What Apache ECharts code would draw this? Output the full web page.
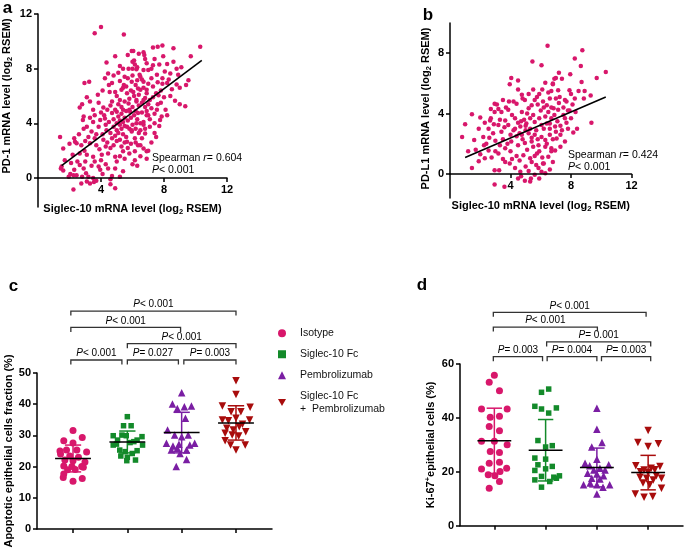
<!DOCTYPE html>
<html>
<head>
<meta charset="utf-8">
<script src="https://cdn.jsdelivr.net/npm/echarts@6/dist/echarts.min.js"></script>
<style>
    html, body {margin: 0; padding: 0; background: #fff;}
    #main {width: 685px; height: 552px;}
</style>
</head>
<body>
<div id="main"></div>
<script>
    // panel a: Siglec-10 vs PD-1 (log2 RSEM)
    var pointsA = [
        [4.0,11.05],[3.6,10.6],[5.45,10.5],[5.95,9.3],[6.7,9.2],[6.05,9.3],[6.75,9.0],[7.3,9.55],[7.6,9.6],[7.9,9.7],
        [10.3,9.6],[9.7,8.9],[7.95,8.9],[8.2,8.35],[7.3,8.25],[6.0,8.5],[4.35,8.45],[6.1,8.6],[6.15,8.3],[5.4,8.0],
        [5.75,8.0],[6.25,7.95],[7.0,7.9],[6.7,7.9],[6.45,7.55],[4.45,7.65],[4.25,7.3],[2.95,6.95],[3.25,7.05],[4.7,6.95],
        [5.2,7.1],[5.45,6.8],[5.95,7.05],[6.3,7.15],[6.7,7.05],[8.9,7.55],[8.4,7.65],[8.05,7.8],[7.55,7.55],[7.2,7.3],
        [6.5,7.4],[9.55,7.15],[8.2,6.95],[8.8,6.85],[7.3,6.7],[6.9,6.45],[6.35,6.55],[5.3,6.45],[4.9,6.3],[4.55,6.3],
        [5.65,6.2],[6.05,6.3],[6.5,6.45],[6.9,6.2],[8.7,5.65],[9.35,5.25],[7.1,5.7],[7.65,6.05],[6.8,5.85],[6.25,5.7],
        [7.2,5.1],[7.55,5.0],[7.85,4.5],[7.75,4.25],[7.0,4.6],[6.7,4.1],[6.25,4.0],[7.1,3.75],[6.8,3.25],[6.6,2.9],
        [6.35,2.4],[6.7,2.15],[6.9,1.95],[6.15,1.95],[6.15,1.3],[5.95,3.5],
        [3.85,5.5],[2.65,5.15],[3.5,5.0],[4.15,5.15],[4.7,5.6],[5.2,5.7],[5.75,5.45],[6.25,5.6],[6.7,5.7],[2.9,4.5],
        [2.85,4.25],[3.6,4.6],[3.95,4.25],[4.25,4.35],[4.7,4.75],[5.0,4.85],[5.4,5.0],[5.85,4.85],[6.35,4.75],[6.9,4.6],
        [3.1,3.75],[3.4,3.4],[3.85,3.75],[4.35,3.5],[4.8,3.75],[5.2,3.9],[5.0,3.5],[5.65,3.75],[5.95,3.4],[6.5,3.5],
        [1.4,3.0],[1.6,2.15],[2.35,2.65],[2.75,2.4],[3.3,2.55],[3.7,2.4],[4.15,2.8],[4.7,2.9],[5.2,2.8],[5.65,2.65],
        [6.15,2.9],[6.5,2.4],[2.65,1.8],[3.1,1.7],[3.5,1.55],[4.05,1.7],[4.45,1.8],[4.9,1.55],[5.4,1.95],[1.5,0.85],
        [2.65,0.95],[2.9,0.7],[3.85,0.85],[3.95,0.6],[4.45,0.7],[4.9,0.7],[2.05,0.3],[2.25,0.2],[3.05,0.35],[3.2,0.1],
        [4.1,0.3],[4.7,0.15],[5.2,0.1],[1.95,0.1],[2.75,-0.4],[3.1,-0.25],[3.3,-0.4],[3.55,-0.3],[2.25,-0.85],[4.9,-0.75],
        [1.45,0.7],[1.6,0.55],[2.45,0.2],[2.45,2.55],[2.2,1.7],[2.5,1.2],[3.0,1.2],[2.95,2.0],
        [4.1,3.2],[4.3,3.9],[4.5,4.1],[4.6,3.3],[4.8,4.3],[4.9,3.1],[5.0,4.0],[5.1,4.5],[5.1,3.3],[5.2,4.2],
        [5.3,3.6],[5.3,4.7],[5.4,4.1],[5.4,3.2],[5.5,3.8],[5.5,4.4],[5.6,4.9],[5.6,3.0],[5.7,4.2],[5.8,3.6],
        [5.8,5.0],[5.9,4.4],[6.0,3.9],[6.0,5.2],[6.1,4.6],[6.2,3.6],[6.2,4.9],[6.3,4.3],[6.4,5.3],[6.5,4.0],
        [6.6,4.8],[6.6,5.5],[6.8,5.2],[6.9,4.9],[7.0,5.4],[7.1,4.3],[7.3,5.9],[7.4,4.7],[7.5,6.2],[7.6,5.4],
        [7.8,6.4],[8.0,5.9],[4.4,2.6],[4.6,2.2],[4.8,2.4],[5.0,2.7],[5.3,2.3],[5.5,2.6],[5.7,2.2],[5.9,2.5],
        [4.2,4.6],[4.4,5.0],[4.6,5.3],[4.9,5.0],[5.1,5.4],[5.3,5.2],[5.5,5.6],[5.8,5.8],[6.1,6.0],[6.4,6.1],
        [6.7,6.6],[7.0,6.9],[5.0,6.0],[5.4,6.6],[5.7,7.3],[6.0,7.5],[6.3,8.1],[6.9,8.4],[7.2,8.0],[7.6,7.0],
        [7.9,7.3],[8.3,7.2],[8.5,6.5],[4.0,4.8],[3.7,3.2],[3.5,4.1],[3.3,4.4],[3.6,2.9],[3.9,2.1],[4.3,2.3],
        [4.0,1.3],[4.3,1.0],[5.0,1.2],[5.2,1.6],[5.5,1.4],[5.8,1.8],[5.4,0.5],[4.6,-0.1],[3.4,0.9],[3.6,1.2],
        [2.6,3.2],[2.9,3.6],[3.2,3.0],[3.3,5.6],[3.8,6.1],[4.1,6.4],[4.5,6.8],[4.8,7.5],[5.1,7.7],[5.5,7.4],
        [5.2,8.2],[4.9,8.9],[5.7,9.0],[6.4,9.1],[6.8,8.7],[7.4,8.7],[8.6,8.5],[9.1,8.1],[3.1,5.9],[2.8,5.4],
        [3.0,2.7],[2.3,2.9],[2.0,2.5],[1.7,1.3],[2.1,1.1],[2.3,0.6],[2.8,0.1],[3.5,0.0],[3.7,-0.2],[4.6,-0.45],
        [7.4,3.3],[7.7,3.8],[7.2,2.6],[7.5,3.0],[7.0,2.0],[6.9,1.4],[6.5,1.6],[6.3,0.9],[6.0,1.0],[6.8,3.6],
        [7.8,5.5],[8.1,5.0],[8.4,6.0],[8.2,4.6],[7.4,4.0],[6.4,3.3],[6.7,3.9],[6.2,2.6],[5.6,6.7],[5.9,6.4],
        [6.6,7.2],[6.2,6.8],[6.0,8.0],[7.7,8.3],[8.6,9.5],[8.8,8.0],[9.0,6.6],[9.4,6.8],[9.0,5.4],[7.9,6.9]
    ];
    var fitA = [[1.5, 0.9], [10.4, 8.6]];

    // panel b: Siglec-10 vs PD-L1 (log2 RSEM)
    var pointsB = [
        [6.45,8.5],[5.45,7.45],[6.05,7.2],[4.05,6.35],[3.95,5.95],[6.3,6.05],[6.8,5.95],[4.75,5.25],[2.95,4.65],[1.45,3.95],
        [2.0,3.75],[2.65,3.55],[0.8,2.45],[1.6,2.25],[2.2,2.45],[2.25,1.9],[1.7,1.6],[2.55,1.55],[1.9,0.85],[1.45,0.4],
        [2.3,1.05],[2.75,1.1],[2.95,0.25],[3.25,0.25],[3.2,1.35],[3.65,0.8],[3.95,0.7],[4.3,0.4],[4.65,0.15],[4.95,-0.45],
        [5.35,-0.3],[5.6,-0.05],[6.3,0.05],[5.85,0.4],[6.15,0.7],[2.95,-0.7],[2.85,2.7],[3.4,2.8],[3.85,3.25],[4.3,3.7],
        [4.75,4.1],[5.2,4.35],[5.75,5.1],[6.15,4.8],[6.6,5.0],[2.95,4.1],[3.4,4.1],[3.85,4.25],[4.4,4.65],[4.95,4.9],
        [5.4,4.55],[3.65,3.55],[3.2,3.25],[2.55,3.0],[4.2,2.9],[4.65,3.15],[5.05,3.35],[5.6,3.45],[6.05,3.25],[6.6,3.35],
        [4.05,2.15],[4.5,1.9],[4.95,2.05],[5.4,2.15],[5.85,1.9],[6.3,1.8],[6.7,1.7],[3.65,1.7],[4.85,1.25],[5.3,1.05],
        [5.75,1.35],[6.5,1.15],[4.75,2.6],[5.2,2.7],[5.6,2.6],[6.05,2.45],
        [8.75,8.2],[8.25,7.65],[8.65,7.15],[10.3,6.75],[9.7,6.35],[7.95,6.6],[7.0,6.35],[7.4,6.3],[6.8,6.0],[8.7,6.1],
        [8.85,5.0],[8.25,5.0],[7.9,5.55],[7.15,5.55],[7.25,5.1],[7.7,4.8],[9.35,3.4],[8.15,2.75],[7.6,2.15],[6.95,1.55],
        [6.7,1.5],[6.2,0.7],[6.05,0.15],[6.85,4.35],[6.4,4.55],[7.15,4.25],[7.5,3.9],[6.7,3.7],[6.4,3.35],[6.95,3.15],
        [7.4,2.9],[6.6,2.6],[6.3,2.25],[7.05,2.35],
        [3.6,-0.85],[4.5,-0.3],[5.3,-0.5],[4.7,-0.15],[5.9,-0.3],[5.0,0.5],[5.4,0.8],[4.4,1.2],[4.0,1.5],[3.3,1.9],
        [3.0,2.2],[1.2,1.5],[1.0,3.3],[1.9,3.0],[2.3,3.4],[2.7,4.3],[3.1,4.6],[3.5,4.9],[3.7,4.4],[4.1,3.9],
        [4.5,3.4],[4.4,2.5],[4.8,2.3],[5.0,2.9],[5.1,1.6],[5.3,3.0],[5.5,1.8],[5.5,3.9],[5.7,2.9],[5.8,2.3],
        [5.9,3.7],[6.0,4.2],[6.2,3.0],[6.4,2.0],[6.5,4.1],[6.7,4.4],[6.9,3.9],[7.1,3.5],[7.2,4.7],[7.3,2.6],
        [7.5,4.4],[7.7,3.4],[7.8,4.2],[8.0,3.7],[8.1,4.6],[8.3,4.1],[8.5,5.5],[8.4,3.0],[7.0,5.0],[6.5,5.4],
        [6.1,5.6],[5.6,4.9],[5.2,5.3],[4.8,5.0],[4.5,5.6],[4.2,4.8],[3.9,4.8],[3.6,3.1],[3.3,3.6],[2.9,3.3],
        [2.6,2.4],[2.4,2.0],[2.0,1.3],[4.6,2.7],[4.9,3.6],[5.1,4.0],[5.4,2.4],[5.6,1.2],[5.9,1.5],[6.1,1.1],
        [6.3,3.8],[6.6,3.0],[6.8,2.3],[7.0,2.8],[7.3,3.2],[7.6,3.7],[7.8,3.0],[6.2,4.4],[5.8,4.6],[5.3,3.7],
        [5.0,3.2],[4.7,3.5],[4.3,3.0],[4.0,2.6],[3.8,2.0],[4.1,1.0],[4.6,0.9],[5.2,0.2],[5.7,0.6],[6.8,0.8],
        [6.6,0.3],[7.3,1.8],[3.0,1.5],[3.5,2.3],[2.7,3.7],[3.2,4.3],[8.9,5.5],[9.3,5.2],[7.2,6.7],[6.9,6.3],
        [8.0,5.3],[7.6,4.9],[3.5,1.0],[4.5,6.2],[5.5,5.6],[5.9,5.3],[6.7,5.5],[7.9,4.2]
    ];
    var fitB = [[1.0, 1.1], [10.3, 5.1]];

    // groups for panels c and d
    var groups = ['Isotype', 'Siglec-10 Fc', 'Pembrolizumab', 'Siglec-10 Fc + Pembrolizumab'];

    // panel c: apoptotic epithelial cells fraction (%), x = group index + jitter
    var isoC = [[0,31.6],[-0.17,28.3],[0.17,29.3],[0,27.6],[-0.24,25.0],[-0.12,25.3],[0.07,25.3],[0.25,24.7],[-0.23,24.0],[-0.06,23.4],
        [0.1,23.0],[-0.15,22.1],[0,21.9],[-0.17,20.2],[-0.02,20.0],[0.16,20.0],[-0.1,19.0],[0.04,19.1],[-0.17,17.6],[0.17,16.2],
        [0,15.3],[0.19,19.8],[-0.18,16.5],[0.22,21.5]];
    var sigC = [[1,36.0],[0.93,33.1],[1.07,33.1],[0.74,29.9],[0.9,30.1],[0.98,29.9],[1.27,29.6],[1.18,28.5],[0.82,28.5],[0.74,26.9],
        [1.28,26.9],[1.05,27.7],[0.86,25.3],[0.96,24.8],[1.18,25.1],[1.09,24.2],[0.88,23.4],[1.0,23.0],[0.99,21.9],[1.15,22.1],
        [1.12,28.0],[0.8,27.2]];
    var pemC = [[2,43.7],[1.83,40.1],[2.18,39.4],[1.92,38.6],[2.05,39.2],[2.07,35.5],[1.74,31.7],[1.87,30.1],[2,29.6],[2.12,30.1],
        [1.72,27.5],[1.84,26.6],[1.95,27.2],[2.15,26.9],[2.24,27.5],[1.81,25.3],[1.92,25.9],[2.09,25.3],[1.97,24.2],[2.09,22.3],
        [1.9,20.0]];
    var comboC = [[3,47.5],[3,43.1],[2.75,39.4],[2.91,37.6],[3.09,37.6],[3.26,39.0],[2.75,34.9],[2.86,34.7],[3,35.5],[3.25,34.9],
        [2.83,32.3],[2.95,31.7],[3.06,32.8],[3.18,31.2],[2.8,30.7],[2.93,30.1],[3.05,29.8],[2.8,28.3],[3.17,26.9],[3,25.3],
        [2.9,26.9],[3.12,33.6]];
    var meanC = [22.6, 27.9, 30.9, 34.0];
    var sdC = [4.3, 3.5, 6.5, 5.5];
    var bracketsC = [[-0.04,0.9,0],[1.0,1.94,0],[2.04,3.0,0],[1.0,3.0,1],[-0.04,1.98,2],[-0.04,3.0,3]];
    var bracketLabelsC = ['< 0.001', '= 0.027', '= 0.003', '< 0.001', '< 0.001', '< 0.001'];

    // panel d: Ki-67+ epithelial cells (%)
    var isoD = [[0,55.8],[-0.1,53.2],[0.1,50.1],[-0.25,43.3],[0.25,43.3],[-0.08,40.2],[0.1,40.6],[-0.1,36.8],[0.1,35.2],[0,31.3],
        [-0.25,31.3],[0.25,30.0],[-0.08,27.5],[0.1,27.2],[-0.1,23.2],[0.1,23.5],[-0.25,21.0],[0.24,21.3],[0.11,20.1],[-0.12,18.9],
        [0.01,18.5],[0.1,16.4],[-0.1,13.9]];
    var sigD = [[0.92,49.5],[1.06,50.7],[0.79,44.3],[0.92,43.3],[1.06,41.8],[1.21,43.7],[0.85,31.6],[1,29.2],[1.13,29.7],[0.79,25.1],
        [1,24.7],[0.85,22.6],[1.13,22.0],[0.79,20.5],[1,21.1],[0.92,18.3],[1.08,16.4],[1.21,17.6],[1.27,18.5],[0.79,17.0],
        [0.92,14.3],[1.16,18.0]];
    var pemD = [[2,43.6],[2,35.8],[2.1,30.9],[1.9,29.2],[2,24.7],[1.77,23.2],[1.86,22.2],[2.23,22.6],[2.06,21.3],[1.94,20.7],
        [2.16,20.7],[1.82,19.5],[2,19.2],[2.13,18.5],[1.9,17.6],[2.06,17.3],[1.74,15.2],[1.87,15.8],[2,15.2],[2.12,14.3],
        [2.25,15.2],[2,11.8]];
    var comboD = [[3,35.3],[2.8,30.9],[3,29.4],[3.2,30.4],[2.76,22.2],[2.92,20.7],[3.06,21.3],[3.23,22.0],[3,19.7],[2.84,18.0],
        [2.97,17.6],[3.16,18.5],[3.1,17.0],[3.26,17.6],[2.9,15.8],[3.03,15.2],[3.26,13.9],[2.75,11.8],[2.92,10.6],[3.09,10.8],
        [2.85,20.0],[3.13,20.8]];
    var meanD = [31.5, 28.0, 21.6, 19.7];
    var sdD = [12.1, 11.4, 7.2, 6.4];
    var bracketsD = [[-0.02,0.94,0],[1.03,2.0,0],[2.09,3.05,0],[1.02,3.05,1],[-0.02,2.01,2],[-0.02,2.96,3]];
    var bracketLabelsD = ['= 0.003', '= 0.004', '= 0.003', '= 0.001', '< 0.001', '< 0.001'];

    var FONT = 'Liberation Sans, Arial, sans-serif';
    var PINK = '#d8176b', GREEN = '#138a2a', PURPLE = '#7a1ea3', RED = '#a80c0c';
    var groupColors = [PINK, GREEN, PURPLE, RED];
    var groupSymbols = ['circle', 'rect', 'triangle', 'path://M0,0L10,0L5,8.66Z'];
    var groupSizes = [7, 5.5, 7.5, 7.5];

    var axisLineStyle = {color: '#000', width: 1.5};
    var labelStyle = {color: '#000', fontWeight: 'bold', fontSize: 11, fontFamily: FONT, margin: 6};
    var nameStyle = {
        color: '#000', fontWeight: 'bold', fontSize: 11, fontFamily: FONT,
        rich: {
            sub: {fontSize: 7.5, fontWeight: 'bold', fontFamily: FONT, padding: [6, 0, 0, 0]},
            sup: {fontSize: 7.5, fontWeight: 'bold', fontFamily: FONT, padding: [0, 0, 6, 0]}
        }
    };

    function valAxis(opt) {
        var base = {
            type: 'value', splitLine: {show: false},
            axisLine: {show: true, onZero: false, lineStyle: axisLineStyle},
            axisTick: {show: true, length: 4, lineStyle: axisLineStyle},
            axisLabel: Object.assign({}, labelStyle),
            nameTextStyle: nameStyle, nameLocation: 'middle'
        };
        return Object.assign(base, opt);
    }

    function hiddenAxis(gridIndex, min, max) {
        return {type: 'value', gridIndex: gridIndex, min: min, max: max, show: false};
    }

    // short piece of the y axis that runs on below zero in panels a and b
    function stubAxis(gridIndex, min) {
        return {type: 'value', gridIndex: gridIndex, min: min, max: 0, splitLine: {show: false},
            axisLine: {show: true, onZero: false, lineStyle: axisLineStyle},
            axisTick: {show: false}, axisLabel: {show: false}};
    }

    function renderErr() {
        return function (params, api) {
            var i = api.value(0), m = api.value(1), s = api.value(2);
            var c = api.coord([i, m]);
            var top = api.coord([i, m + s]);
            var bot = api.coord([i, m - s]);
            var w = api.size([1, 0])[0];
            var col = groupColors[params.dataIndex];
            var st = {stroke: col, lineWidth: 1.5};
            return {
                type: 'group', children: [
                    {type: 'line', shape: {x1: c[0], y1: top[1], x2: c[0], y2: bot[1]}, style: st},
                    {type: 'line', shape: {x1: c[0] - 0.15 * w, y1: top[1], x2: c[0] + 0.15 * w, y2: top[1]}, style: st},
                    {type: 'line', shape: {x1: c[0] - 0.15 * w, y1: bot[1], x2: c[0] + 0.15 * w, y2: bot[1]}, style: st},
                    {type: 'line', shape: {x1: c[0] - 0.33 * w, y1: c[1], x2: c[0] + 0.33 * w, y2: c[1]}, style: {stroke: '#000', lineWidth: 1.5}}
                ]
            };
        };
    }

    function renderBracket(labels) {
        return function (params, api) {
            var p1 = api.coord([api.value(0), api.value(2)]);
            var p2 = api.coord([api.value(1), api.value(2)]);
            var leg = 4.5;
            return {
                type: 'group', children: [
                    {
                        type: 'polyline',
                        shape: {points: [[p1[0], p1[1] + leg], [p1[0], p1[1]], [p2[0], p2[1]], [p2[0], p2[1] + leg]]},
                        style: {stroke: '#333', lineWidth: 1.3, fill: null}
                    },
                    {
                        type: 'text',
                        style: {
                            x: (p1[0] + p2[0]) / 2, y: p1[1] - 1.5,
                            text: '{i|P}' + labels[params.dataIndex],
                            align: 'center', verticalAlign: 'bottom',
                            fontSize: 10, fontFamily: FONT, fill: '#000',
                            rich: {i: {fontStyle: 'italic', fontSize: 10, fontFamily: FONT}}
                        }
                    }
                ]
            };
        };
    }

    var dotSeries = [];
    [[isoC, sigC, pemC, comboC], [isoD, sigD, pemD, comboD]].forEach(function (sets, k) {
        sets.forEach(function (d, g) {
            dotSeries.push({
                name: groups[g], type: 'scatter', xAxisIndex: 2 + k, yAxisIndex: 2 + k,
                symbol: groupSymbols[g], symbolSize: groupSizes[g],
                itemStyle: {color: groupColors[g], opacity: 1},
                data: d, z: 2
            });
        });
    });

    var richItalic = {i: {fontStyle: 'italic', fontSize: 10.5, fontFamily: FONT}};

    var chart = echarts.init(document.getElementById('main'));
    chart.setOption({
        animation: false,
        backgroundColor: '#fff',
        textStyle: {fontFamily: FONT},
        grid: [
            {left: 38, top: 14, width: 189, height: 164},
            {left: 450, top: 23, width: 181.5, height: 151},
            {left: 37, top: 373, width: 235, height: 156},
            {left: 460, top: 364, width: 223, height: 161.7},
            {left: 37, top: 300, width: 235, height: 65},
            {left: 460, top: 295, width: 223, height: 66},
            {left: 38, top: 178, width: 189, height: 29},
            {left: 450, top: 174, width: 181.5, height: 24}
        ],
        xAxis: [
            valAxis({gridIndex: 0, min: 0, max: 12, z: 5,
                axisTick: {show: true, length: 4, lineStyle: axisLineStyle, customValues: [4, 8, 12]},
                axisLabel: Object.assign({}, labelStyle, {customValues: [4, 8, 12]}),
                name: 'Siglec-10 mRNA level (log{sub|2} RSEM)', nameGap: 24}),
            valAxis({gridIndex: 1, min: 0, max: 12, z: 5,
                axisTick: {show: true, length: 4, lineStyle: axisLineStyle, customValues: [4, 8, 12]},
                axisLabel: Object.assign({}, labelStyle, {customValues: [4, 8, 12]}),
                name: 'Siglec-10 mRNA level (log{sub|2} RSEM)', nameGap: 25}),
            valAxis({gridIndex: 2, min: -0.663, max: 3.663,
                axisTick: {show: true, length: 4, lineStyle: axisLineStyle, customValues: [0, 1, 2, 3]},
                axisLabel: {show: false}}),
            valAxis({gridIndex: 3, min: -0.67, max: 3.68,
                axisTick: {show: true, length: 4, lineStyle: axisLineStyle, customValues: [0, 1, 2, 3]},
                axisLabel: {show: false}}),
            hiddenAxis(4, -0.663, 3.663),
            hiddenAxis(5, -0.67, 3.68),
            hiddenAxis(6, 0, 12),
            hiddenAxis(7, 0, 12)
        ],
        yAxis: [
            valAxis({gridIndex: 0, min: 0, max: 12, interval: 4,
                name: 'PD-1 mRNA level (log{sub|2} RSEM)', nameGap: 24}),
            valAxis({gridIndex: 1, min: 0, max: 10,
                axisTick: {show: true, length: 4, lineStyle: axisLineStyle, customValues: [0, 4, 8]},
                axisLabel: Object.assign({}, labelStyle, {customValues: [0, 4, 8]}),
                name: 'PD-L1 mRNA level (log{sub|2} RSEM)', nameGap: 17,
                nameTextStyle: Object.assign({}, nameStyle, {padding: [0, 20, 0, 0]})}),
            valAxis({gridIndex: 2, min: 0, max: 50, interval: 10,
                name: 'Apoptotic epithelial cells fraction (%)', nameGap: 22}),
            valAxis({gridIndex: 3, min: 0, max: 60, interval: 20,
                name: 'Ki-67{sup|+}epithelial cells (%)', nameGap: 22}),
            hiddenAxis(4, -0.307, 3.68),
            hiddenAxis(5, -0.29, 4.17),
            stubAxis(6, -2.1),
            stubAxis(7, -1.6)
        ],
        legend: {
            data: groups, orient: 'vertical', left: 273, top: 322,
            itemWidth: 8, itemHeight: 8, itemGap: 8.5,
            formatter: function (name) { return name.replace(' + ', '\n+  '); },
            textStyle: {fontSize: 10.5, fontFamily: FONT, color: '#111', lineHeight: 12.5, padding: [0, 0, 0, 9]}
        },
        graphic: [
            {type: 'text', style: {x: 7.5, y: 8, text: 'a', align: 'center', verticalAlign: 'middle', font: 'bold 17px ' + FONT, fill: '#000'}},
            {type: 'text', style: {x: 428, y: 15, text: 'b', align: 'center', verticalAlign: 'middle', font: 'bold 17px ' + FONT, fill: '#000'}},
            {type: 'text', style: {x: 13.5, y: 286, text: 'c', align: 'center', verticalAlign: 'middle', font: 'bold 17px ' + FONT, fill: '#000'}},
            {type: 'text', style: {x: 422, y: 285, text: 'd', align: 'center', verticalAlign: 'middle', font: 'bold 17px ' + FONT, fill: '#000'}},
            {type: 'text', style: {x: 152, y: 158, text: 'Spearman {i|r}= 0.604', verticalAlign: 'middle', fontSize: 10.5, fontFamily: FONT, fill: '#000', rich: richItalic}},
            {type: 'text', style: {x: 152, y: 170, text: '{i|P}< 0.001', verticalAlign: 'middle', fontSize: 10.5, fontFamily: FONT, fill: '#000', rich: richItalic}},
            {type: 'text', style: {x: 568, y: 155.5, text: 'Spearman {i|r}= 0.424', verticalAlign: 'middle', fontSize: 10.5, fontFamily: FONT, fill: '#000', rich: richItalic}},
            {type: 'text', style: {x: 568, y: 167, text: '{i|P}< 0.001', verticalAlign: 'middle', fontSize: 10.5, fontFamily: FONT, fill: '#000', rich: richItalic}}
        ],
        series: [
            {type: 'scatter', name: 'PD-1', xAxisIndex: 0, yAxisIndex: 0, symbolSize: 4.5, clip: false,
                itemStyle: {color: PINK, opacity: 1}, data: pointsA},
            {type: 'line', name: 'fitA', xAxisIndex: 0, yAxisIndex: 0, symbol: 'none',
                lineStyle: {color: '#000', width: 1.6}, data: fitA, z: 3},
            {type: 'scatter', name: 'PD-L1', xAxisIndex: 1, yAxisIndex: 1, symbolSize: 4.5, clip: false,
                itemStyle: {color: PINK, opacity: 1}, data: pointsB},
            {type: 'line', name: 'fitB', xAxisIndex: 1, yAxisIndex: 1, symbol: 'none',
                lineStyle: {color: '#000', width: 1.6}, data: fitB, z: 3}
        ].concat(dotSeries).concat([
            {type: 'custom', name: 'errC', xAxisIndex: 2, yAxisIndex: 2, z: 4,
                renderItem: renderErr(),
                data: meanC.map(function (m, i) { return [i, m, sdC[i]]; })},
            {type: 'custom', name: 'errD', xAxisIndex: 3, yAxisIndex: 3, z: 4,
                renderItem: renderErr(),
                data: meanD.map(function (m, i) { return [i, m, sdD[i]]; })},
            {type: 'custom', name: 'brC', xAxisIndex: 4, yAxisIndex: 4, clip: false,
                encode: {x: [0, 1], y: 2},
                renderItem: renderBracket(bracketLabelsC), data: bracketsC},
            {type: 'custom', name: 'brD', xAxisIndex: 5, yAxisIndex: 5, clip: false,
                encode: {x: [0, 1], y: 2},
                renderItem: renderBracket(bracketLabelsD), data: bracketsD}
        ])
    });
</script>
</body>
</html>
